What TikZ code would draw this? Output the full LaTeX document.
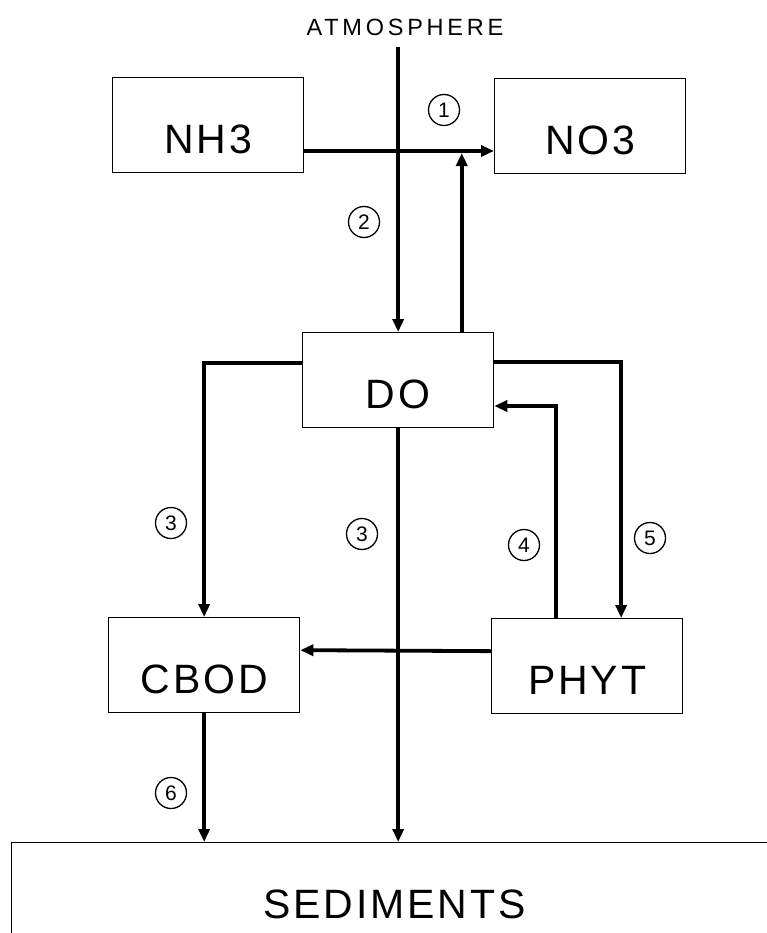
\documentclass[tikz,border=0pt]{standalone}
\usepackage{fontspec}
\setmainfont{Liberation Sans}
\usetikzlibrary{arrows.meta,calc}

\begin{document}
\begin{tikzpicture}[x=1pt,y=-1pt,box/.style={draw,line width=1.3pt,anchor=north west,minimum width=191pt,inner sep=0pt,text height=76pt,text depth=19pt,font=\fontsize{41}{41}\selectfont\addfontfeature{LetterSpace=7}},num/.style={draw,circle,line width=1.3pt,minimum size=31pt,inner sep=0pt,font=\fontsize{21}{21}\selectfont},flow/.style={line width=3.8pt,-{Triangle[length=13pt,width=11pt]}}]
\clip (0,0) rectangle (767,933);
\fill[white] (0,0) rectangle (767,933);
\node[font=\fontsize{23.5}{23.5}\selectfont\addfontfeature{LetterSpace=16}] (atm) at (405,27) {ATMOSPHERE};
\node[box] (nh3) at (112,77) {NH3};
\node[box] (no3) at (494,78) {NO3};
\node[box] (do) at (302,332) {DO};
\node[box] (cbod) at (108,617) {CBOD};
\node[box] (phyt) at (491,618) {PHYT};
\node[box,minimum width=766pt,text depth=40pt] (sed) at (11,842) {SEDIMENTS};
\coordinate (nitr) at ($(nh3.mid east)!0.83!(nh3.mid east -| no3.west)$);
\draw[flow] (nh3.mid east) -- (nh3.mid east -| no3.west);
\draw[flow,shorten <=8pt] (atm.south -| do.north) -- (do.north);
\draw[flow,shorten >=2pt] (do.north -| nitr) -- (nitr);
\draw[flow] ([yshift=-31pt]do.north west) -| (cbod.north);
\draw[flow] ([yshift=-30pt]do.north east) -| ([xshift=34pt]phyt.north);
\draw[flow] ([xshift=-31pt]phyt.north) |- (do.mid east);
\draw[flow] ([yshift=15pt]phyt.west) -- ([yshift=15pt]cbod.east);
\draw[flow] (do.south) -- (do.south |- sed.north);
\draw[flow] (cbod.south) -- (cbod.south |- sed.north);
\node[num] (n1) at (444,110) {1};
\node[num] (n2) at (364,222) {2};
\node[num] (n3a) at (171,523) {3};
\node[num] (n3b) at (362,534) {3};
\node[num] (n4) at (524,545) {4};
\node[num] (n5) at (650,538) {5};
\node[num] (n6) at (171,793) {6};
\end{tikzpicture}
\end{document}
